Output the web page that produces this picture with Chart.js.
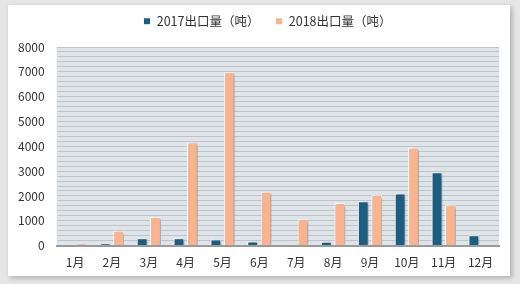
<!DOCTYPE html>
<html>
<head>
<meta charset="utf-8">
<script src="https://cdn.jsdelivr.net/npm/chart.js@4/dist/chart.umd.min.js"></script>
<style>
  html, body { margin: 0; padding: 0; background: #e6e6e6; width: 520px; height: 284px; overflow: hidden; }
  #card { position: absolute; left: 8px; top: 5px; width: 502px; height: 271px; background: #fff;
          box-shadow: 2px 2px 5px rgba(0,0,0,0.25); }
  canvas { display: block; }
</style>
</head>
<body>
<div id="card"><canvas id="chartExport" width="502" height="271"></canvas></div>
<script>
// 月份与出口量（吨）
const months = ['1月','2月','3月','4月','5月','6月','7月','8月','9月','10月','11月','12月'];
const export2017 = [10, 80, 300, 300, 250, 170, 20, 160, 1790, 2100, 2950, 420];
const export2018 = [80, 600, 1150, 4150, 6980, 2170, 1060, 1720, 2050, 3940, 1630, 0];
const yTicks = [0, 1000, 2000, 3000, 4000, 5000, 6000, 7000, 8000];

const FONT = '"Noto Sans CJK SC", "Noto Sans", sans-serif';

// 图例位置微调、绘图区背景、柱子阴影
const areaBg = {
  id: 'areaBg',
  beforeInit(chart) {
    const lg = chart.legend;
    const fit = lg.fit;
    lg.fit = function () {
      fit.bind(this)();
      this.height = 46;
    };
    const draw = lg.draw;
    lg.draw = function () {
      const ctx = this.ctx;
      ctx.save();
      ctx.translate(15, -2);
      draw.bind(this)();
      ctx.restore();
    };
  },
  beforeDraw(chart) {
    const { ctx, chartArea: a } = chart;
    ctx.save();
    ctx.fillStyle = '#dfe4e9';
    ctx.fillRect(a.left, a.top, a.right - a.left, a.bottom - a.top);
    ctx.restore();
  },
  beforeDatasetsDraw(chart) {
    const ctx = chart.ctx;
    ctx.save();
    ctx.shadowColor = 'rgba(0,0,0,0.35)';
    ctx.shadowOffsetX = 3;
    ctx.shadowOffsetY = 1;
    ctx.shadowBlur = 3;
  },
  afterDatasetsDraw(chart) {
    chart.ctx.restore();
  }
};

new Chart(document.getElementById('chartExport'), {
  type: 'bar',
  data: {
    labels: months,
    datasets: [
      { label: '2017出口量（吨）', data: export2017, backgroundColor: '#1b5e80',
        borderColor: '#ffffff', borderWidth: 1, barPercentage: 0.8, categoryPercentage: 0.73 },
      { label: '2018出口量（吨）', data: export2018, backgroundColor: '#f9b48f',
        borderColor: '#ffffff', borderWidth: 1, barPercentage: 0.8, categoryPercentage: 0.73 }
    ]
  },
  options: {
    responsive: false,
    animation: false,
    layout: { padding: { left: -2, right: 11, top: -4, bottom: -4 } },
    plugins: {
      legend: {
        position: 'top',
        labels: { font: { family: FONT, size: 12.5 }, color: '#333', boxWidth: 7, boxHeight: 7, padding: 16 }
      },
      tooltip: { enabled: false }
    },
    scales: {
      x: {
        grid: { display: false, drawTicks: false },
        border: { color: '#9a9a9a', width: 2 },
        ticks: { font: { family: FONT, size: 12 }, color: '#333', padding: 10, maxRotation: 0 }
      },
      y: {
        min: 0, max: 8000,
        afterBuildTicks(axis) {
          const t = [];
          for (let v = 0; v <= 8000; v += 200) t.push({ value: v });
          axis.ticks = t;
        },
        grid: { color: '#bcc4cc', lineWidth: 1, drawTicks: false },
        border: { display: false },
        ticks: {
          autoSkip: false,
          font: { family: FONT, size: 12 }, color: '#333', padding: 12,
          callback: v => yTicks.includes(v) ? String(v) : ''
        }
      }
    }
  },
  plugins: [areaBg]
});
</script>
</body>
</html>
